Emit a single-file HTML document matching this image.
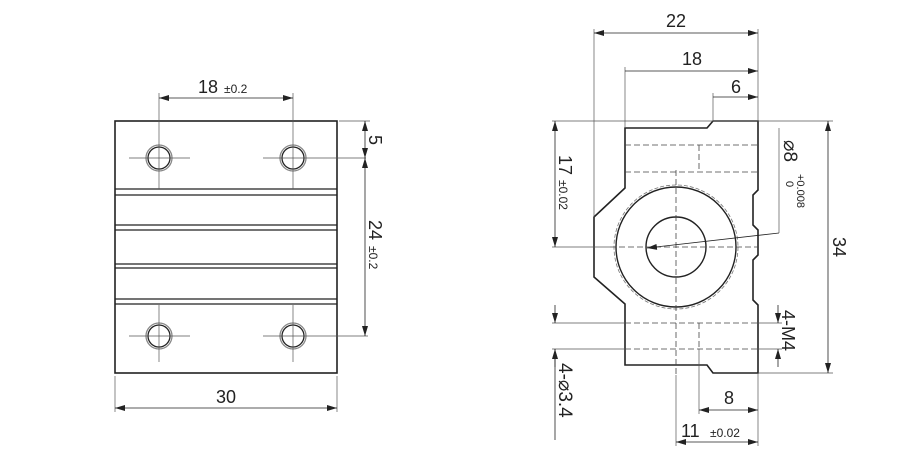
<!DOCTYPE html>
<html><head><meta charset="utf-8"><style>
html,body{margin:0;padding:0;background:#fff;}
svg{display:block;}
text{font-family:"Liberation Sans",sans-serif;fill:#222;}
</style></head><body>
<svg width="900" height="466" viewBox="0 0 900 466" xmlns="http://www.w3.org/2000/svg">
<defs>
<marker id="a" viewBox="0 0 10 6" refX="10" refY="3" markerWidth="10" markerHeight="6" orient="auto-start-reverse" markerUnits="userSpaceOnUse"><path d="M0,0 L10,3 L0,6 z" fill="#222"/></marker>
</defs>
<g stroke="#222" fill="none">
<rect x="115" y="121" width="222" height="252" stroke-width="1.6"/>
<g stroke-width="1.3">
<line x1="115" y1="189" x2="337" y2="189"/><line x1="115" y1="195" x2="337" y2="195"/>
<line x1="115" y1="225" x2="337" y2="225"/><line x1="115" y1="230" x2="337" y2="230"/>
<line x1="115" y1="264" x2="337" y2="264"/><line x1="115" y1="268" x2="337" y2="268"/>
<line x1="115" y1="299" x2="337" y2="299"/><line x1="115" y1="304" x2="337" y2="304"/>
</g>
<g stroke-width="1.3">
<circle cx="159" cy="158" r="11"/><circle cx="159" cy="158" r="13" stroke="#888"/>
<circle cx="293" cy="158" r="11"/><circle cx="293" cy="158" r="13" stroke="#888"/>
<circle cx="159" cy="336" r="11"/><circle cx="159" cy="336" r="13" stroke="#888"/>
<circle cx="293" cy="336" r="11"/><circle cx="293" cy="336" r="13" stroke="#888"/>
</g>
<g stroke-width="0.7" stroke="#555">
<line x1="129" y1="158" x2="190" y2="158"/><line x1="263" y1="158" x2="366" y2="158"/>
<line x1="129" y1="336" x2="190" y2="336"/><line x1="263" y1="336" x2="368" y2="336"/>
<line x1="159" y1="93" x2="159" y2="189"/><line x1="293" y1="93" x2="293" y2="189"/>
<line x1="159" y1="305" x2="159" y2="362"/><line x1="293" y1="305" x2="293" y2="362"/>
<line x1="339" y1="121" x2="370" y2="121"/>
<line x1="115" y1="376" x2="115" y2="412"/><line x1="337" y1="376" x2="337" y2="412"/>
</g>
<g stroke-width="0.8">
<line x1="159" y1="98" x2="293" y2="98" marker-start="url(#a)" marker-end="url(#a)"/>
<line x1="115" y1="408" x2="337" y2="408" marker-start="url(#a)" marker-end="url(#a)"/>
<line x1="365" y1="121" x2="365" y2="158" marker-start="url(#a)" marker-end="url(#a)"/>
<line x1="365" y1="158" x2="365" y2="336" marker-start="url(#a)" marker-end="url(#a)"/>
</g>

<path d="M625,128 L707,128 L713,121 L758,121 L758,190 L753,195 L753,225 L758,230 L758,255 L753,260 L753,300 L758,305 L758,373 L713,373 L707,365 L625,365 L625,304 L594,277 L594,217 L625,188 Z" stroke-width="1.6"/>
<circle cx="676" cy="247" r="60" stroke-width="1.4"/>
<circle cx="676" cy="247" r="62" stroke-width="0.8" stroke="#777" stroke-dasharray="4,2"/>
<circle cx="676" cy="247" r="30" stroke-width="1.4"/>
<g stroke-width="0.8" stroke="#444" stroke-dasharray="6,3">
<line x1="625" y1="145" x2="758" y2="145"/><line x1="625" y1="172" x2="758" y2="172"/>
<line x1="699" y1="145" x2="699" y2="172"/>
<line x1="625" y1="323" x2="758" y2="323"/><line x1="625" y1="349" x2="758" y2="349"/>
<line x1="699" y1="323" x2="699" y2="349"/>
<line x1="676" y1="170" x2="676" y2="375"/>
<line x1="610" y1="247" x2="758" y2="247"/>
</g>
<g stroke-width="0.7" stroke="#555">
<line x1="676" y1="375" x2="676" y2="446"/>
<line x1="594" y1="29" x2="594" y2="217"/><line x1="758" y1="29" x2="758" y2="121"/>
<line x1="625" y1="67" x2="625" y2="128"/><line x1="713" y1="93" x2="713" y2="121"/>
<line x1="552" y1="121" x2="833" y2="121"/><line x1="552" y1="247" x2="610" y2="247"/>
<line x1="758" y1="373" x2="833" y2="373"/>
<line x1="552" y1="323" x2="625" y2="323"/><line x1="552" y1="349" x2="625" y2="349"/>
<line x1="758" y1="323" x2="782" y2="323"/><line x1="758" y1="349" x2="782" y2="349"/>
<line x1="699" y1="349" x2="699" y2="414"/><line x1="758" y1="373" x2="758" y2="446"/>
<line x1="779" y1="128" x2="779" y2="233"/>
</g>
<g stroke-width="0.8">
<line x1="594" y1="33" x2="758" y2="33" marker-start="url(#a)" marker-end="url(#a)"/>
<line x1="625" y1="71" x2="758" y2="71" marker-end="url(#a)"/>
<line x1="713" y1="97" x2="758" y2="97" marker-end="url(#a)"/>
<line x1="555" y1="121" x2="555" y2="247" marker-start="url(#a)" marker-end="url(#a)"/>
<line x1="828" y1="121" x2="828" y2="373" marker-start="url(#a)" marker-end="url(#a)"/>
<line x1="779" y1="233" x2="647" y2="248" marker-end="url(#a)"/>
<line x1="555" y1="305" x2="555" y2="323" marker-end="url(#a)"/>
<line x1="555" y1="349" x2="555" y2="440"/>
<line x1="555" y1="367" x2="555" y2="349" marker-end="url(#a)"/>
<line x1="778" y1="305" x2="778" y2="323" marker-end="url(#a)"/>
<line x1="778" y1="367" x2="778" y2="349" marker-end="url(#a)"/>
<line x1="699" y1="410" x2="758" y2="410" marker-start="url(#a)" marker-end="url(#a)"/>
<line x1="676" y1="442" x2="758" y2="442" marker-start="url(#a)" marker-end="url(#a)"/>
</g>
</g>

<text x="198" y="93" font-size="18">18</text><text x="224" y="93" font-size="12">±0.2</text>
<text x="226" y="403" font-size="18" text-anchor="middle">30</text>
<text transform="translate(369,135) rotate(90)" font-size="18">5</text>
<text transform="translate(369,220) rotate(90)" font-size="18">24</text>
<text transform="translate(369,246) rotate(90)" font-size="12">±0.2</text>

<text x="676" y="27" font-size="18" text-anchor="middle">22</text>
<text x="692" y="65" font-size="18" text-anchor="middle">18</text>
<text x="736" y="93" font-size="18" text-anchor="middle">6</text>
<text transform="translate(559,155) rotate(90)" font-size="18">17</text>
<text transform="translate(559,180) rotate(90)" font-size="12">±0.02</text>
<text transform="translate(833,237) rotate(90)" font-size="18">34</text>
<text transform="translate(784,140) rotate(90)" font-size="19">⌀8</text>
<text transform="translate(786,181) rotate(90)" font-size="11">0</text>
<text transform="translate(797,174) rotate(90)" font-size="11">+0.008</text>
<text transform="translate(782,310) rotate(90)" font-size="18">4-M4</text>
<text transform="translate(559,363) rotate(90)" font-size="19">4-⌀3.4</text>
<text x="729" y="404" font-size="18" text-anchor="middle">8</text>
<text x="681" y="437" font-size="18">11</text><text x="710" y="437" font-size="12">±0.02</text>
</svg>
</body></html>
